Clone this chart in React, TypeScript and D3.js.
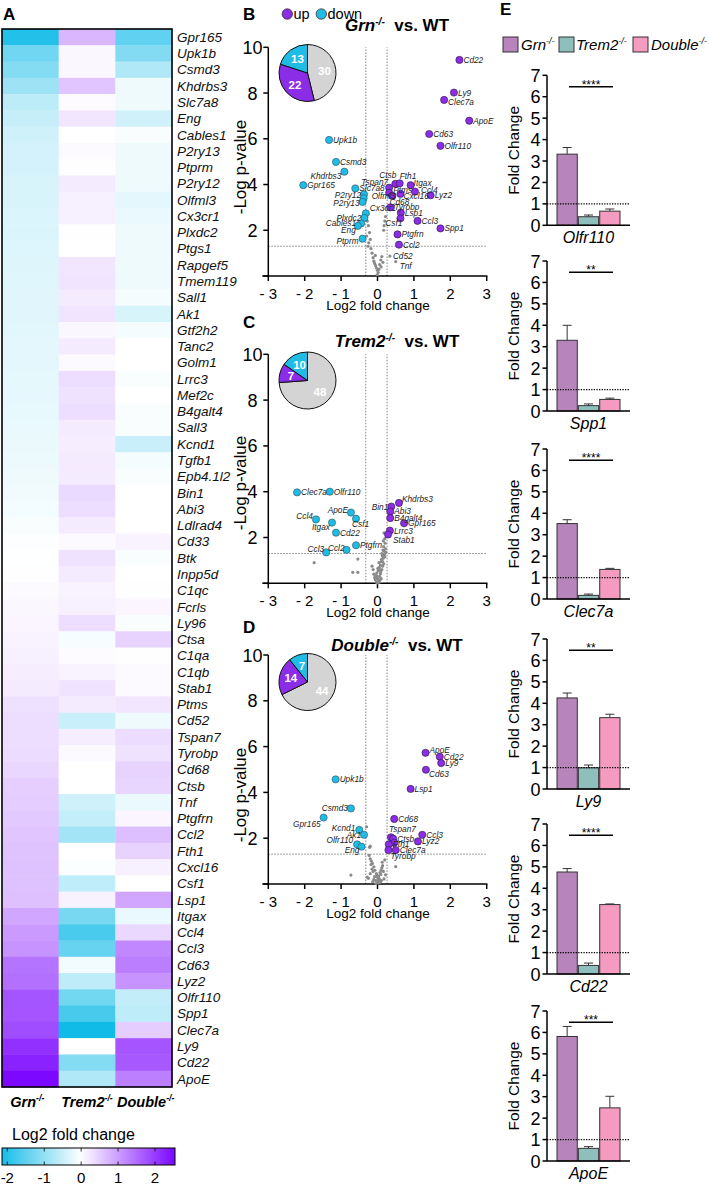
import React from 'react';
import * as d3 from 'd3';

const FONT = '"Liberation Sans", Arial, Helvetica, sans-serif';

// ---------------- Heatmap data ----------------
const GENES = ['Gpr165','Upk1b','Csmd3','Khdrbs3','Slc7a8','Eng','Cables1','P2ry13','Ptprm','P2ry12','Olfml3','Cx3cr1','Plxdc2','Ptgs1','Rapgef5','Tmem119','Sall1','Ak1','Gtf2h2','Tanc2','Golm1','Lrrc3','Mef2c','B4galt4','Sall3','Kcnd1','Tgfb1','Epb4.1l2','Bin1','Abi3','Ldlrad4','Cd33','Btk','Inpp5d','C1qc','Fcrls','Ly96','Ctsa','C1qa','C1qb','Stab1','Ptms','Cd52','Tspan7','Tyrobp','Cd68','Ctsb','Tnf','Ptgfrn','Ccl2','Fth1','Cxcl16','Csf1','Lsp1','Itgax','Ccl4','Ccl3','Cd63','Lyz2','Olfr110','Spp1','Clec7a','Ly9','Cd22','ApoE'];
const HEAT_COLS = ['Grn', 'Trem2', 'Double'];
const GRN_FC = [-2.04,-1.33,-1.14,-0.91,-0.61,-0.54,-0.45,-0.41,-0.41,-0.37,-0.37,-0.33,-0.33,-0.32,-0.31,-0.30,-0.29,-0.28,-0.27,-0.26,-0.25,-0.24,-0.23,-0.21,-0.20,-0.19,-0.17,-0.15,-0.13,-0.11,-0.05,-0.03,-0.01,0.01,0.06,0.08,0.10,0.12,0.15,0.17,0.20,0.32,0.34,0.35,0.36,0.41,0.49,0.50,0.55,0.59,0.61,0.63,0.63,0.64,0.91,1.03,1.10,1.42,1.46,1.73,1.74,1.83,2.10,2.25,2.52];
const TREM2_FC = [0.74,0.08,0.08,0.59,0.04,0.25,0.0,0.06,0.02,0.2,0.15,0.15,0.02,0.0,0.25,0.28,0.2,0.28,0.08,0.2,0.06,0.34,0.3,0.35,0.2,0.18,0.2,0.2,0.38,0.35,0.2,0.06,0.3,0.2,0.12,0.15,0.35,-0.08,0.04,0.12,0.29,0.2,-0.5,0.18,0.05,0.0,0.0,-0.45,-0.55,-0.85,0.0,-0.04,-0.59,0.14,-1.25,-1.69,-1.41,-0.12,-0.6,-1.31,-1.7,-2.21,0.0,-1.14,-0.73];
const DOUBLE_FC = [-1.48,-1.15,-0.73,-0.15,-0.15,-0.44,-0.05,-0.15,-0.15,-0.15,-0.25,-0.2,-0.15,-0.15,-0.15,-0.15,-0.1,-0.37,-0.1,0.0,0.0,-0.05,0.0,-0.05,-0.05,-0.51,-0.1,-0.05,0.0,0.0,0.0,0.12,-0.05,0.0,0.02,0.1,-0.05,0.45,0.02,0.05,0.05,0.25,-0.15,0.36,0.3,0.45,0.42,-0.2,0.1,0.65,0.45,0.15,0.0,0.91,-0.2,0.4,1.22,1.32,1.1,-0.56,-0.6,0.5,1.74,1.7,1.31];
const COLORBAR_TICKS = [-2, -1, 0, 1, 2];

// ---------------- Volcano data: [gene, log2FC, -log p] ----------------
type Pt = [string, number, number];
const GRN_UP: Pt[] = [['Cd22',2.25,9.45],['Ly9',2.10,8.02],['Clec7a',1.83,7.70],['ApoE',2.52,6.79],['Cd63',1.42,6.21],['Olfr110',1.73,5.69],['Ctsb',0.49,4.03],['Fth1',0.61,4.05],['Itgax',0.91,3.97],['Tspan7',0.32,3.86],['Ptms',0.32,3.64],['Ccl4',1.03,3.69],['Cxcl16',0.63,3.59],['Lyz2',1.46,3.53],['Cd68',0.41,3.50],['Tyrobp',0.35,3.00],['Lsp1',0.64,2.77],['Csf1',0.63,2.52],['Ccl3',1.10,2.41],['Spp1',1.73,2.08],['Ptgfrn',0.55,1.82],['Ccl2',0.59,1.37]];
const GRN_DOWN: Pt[] = [['Upk1b',-1.33,5.95],['Csmd3',-1.14,4.99],['Khdrbs3',-0.91,4.56],['Gpr165',-2.04,3.97],['Slc7a8',-0.61,3.83],['P2ry12',-0.37,3.57],['Olfml3',-0.38,3.40],['P2ry13',-0.41,3.24],['Cx3cr1',-0.32,2.74],['Plxdc2',-0.36,2.54],['Cables1',-0.45,2.30],['Eng',-0.54,2.19],['Ptprm',-0.41,1.63]];
const GRN_NS: Pt[] = [['Cd52',0.34,0.87],['Tnf',0.50,0.63],['',-0.28,2.4],['',-0.25,2.2],['',-0.22,1.9],['',-0.2,1.6],['',-0.24,1.45],['',-0.18,1.2],['',-0.15,1.0],['',-0.12,0.8],['',-0.1,0.65],['',-0.08,0.55],['',-0.05,0.45],['',-0.03,0.35],['',0.0,0.25],['',0.02,0.15],['',0.04,0.3],['',0.06,0.5],['',0.09,0.7],['',0.12,0.85],['',0.15,0.6],['',0.18,2.2],['',0.2,2.4],['',0.17,2.0],['',0.22,2.6],['',-0.3,1.75],['',-0.26,1.3],['',-0.01,0.05],['',0.1,0.4],['',-0.06,0.9]];
const GRN_PIE = [30, 22, 13]; // ns, up, down

const TREM2_UP: Pt[] = [['Khdrbs3',0.59,3.51],['Bin1',0.38,3.35],['Abi3',0.35,3.14],['B4galt4',0.35,2.85],['Gpr165',0.73,2.62],['Lrrc3',0.34,2.30],['Stab1',0.29,2.13]];
const TREM2_DOWN: Pt[] = [['Clec7a',-2.21,3.97],['Olfr110',-1.31,4.0],['ApoE',-0.73,3.09],['Ccl4',-1.69,2.79],['Itgax',-1.25,2.65],['Csf1',-0.59,2.82],['Cd22',-1.14,2.21],['Ptgfrn',-0.59,1.66],['Ccl2',-0.85,1.46],['Ccl3',-1.41,1.35]];
const TREM2_NS: Pt[] = [['',-1.74,0.9],['',-0.54,1.06],['',-0.68,0.48],['',-0.54,0.48],['',0.18,2.2],['',0.2,1.95],['',0.17,1.6],['',0.15,1.45],['',0.12,1.3],['',0.16,1.1],['',0.1,0.95],['',0.08,0.8],['',0.05,0.7],['',0.02,0.55],['',-0.02,0.45],['',-0.05,0.35],['',0.0,0.2],['',0.03,0.1],['',-0.03,0.05],['',0.06,0.3],['',0.12,0.6],['',0.14,0.75],['',0.18,1.4],['',0.22,1.5],['',0.19,1.25],['',0.09,0.5],['',-0.08,0.25],['',-0.1,0.4],['',0.01,0.65],['',0.04,0.9],['',0.11,1.05],['',0.13,1.2],['',0.21,1.75],['',0.16,1.85],['',0.07,0.15],['',-0.01,0.3],['',0.08,0.42],['',-0.06,0.15],['',0.14,0.95],['',0.2,1.15],['',0.17,0.85],['',0.06,0.6],['',-0.12,0.6],['',-0.15,0.75],['',0.23,1.35],['',0.1,0.2],['',0.0,0.02],['',0.05,0.05]];
const TREM2_PIE = [48, 7, 10];

const DOUBLE_UP: Pt[] = [['ApoE',1.32,5.73],['Cd22',1.71,5.56],['Ly9',1.75,5.28],['Cd63',1.33,4.99],['Lsp1',0.91,4.15],['Cd68',0.46,2.84],['Tspan7',0.37,2.04],['Ctsb',0.43,1.98],['Ccl3',1.23,2.15],['Lyz2',1.11,1.86],['',0.46,1.80],['Fth1',0.31,1.73],['Clec7a',0.50,1.48],['Tyrobp',0.30,1.48]];
const DOUBLE_DOWN: Pt[] = [['Upk1b',-1.15,4.57],['Csmd3',-0.73,3.3],['Gpr165',-1.48,2.9],['Kcnd1',-0.50,2.36],['Ak1',-0.37,2.15],['Olfr110',-0.56,1.73],['Eng',-0.44,1.63]];
const DOUBLE_NS: Pt[] = [['',-0.73,0.39],['',-0.3,2.5],['',-0.22,1.6],['',-0.2,1.65],['',0.5,0.76],['',-0.2,1.1],['',-0.17,1.0],['',-0.14,0.9],['',-0.1,0.75],['',-0.07,0.6],['',-0.03,0.45],['',0.0,0.3],['',0.03,0.35],['',0.07,0.5],['',0.12,0.7],['',0.14,0.8],['',0.1,0.6],['',0.05,0.2],['',-0.05,0.15],['',-0.1,0.2],['',-0.25,0.25],['',-0.28,0.3],['',0.08,0.1],['',0.02,0.05],['',-0.02,0.4],['',-0.12,0.55],['',-0.18,0.85],['',0.13,0.95],['',0.2,1.05],['',0.22,0.4],['',0.0,0.12],['',0.04,0.25],['',-0.08,0.32],['',0.09,0.42],['',-0.15,0.65],['',0.16,0.55],['',-0.23,1.25],['',0.18,0.22],['',0.11,0.15],['',-0.04,0.02],['',0.06,0.08],['',0.01,0.18],['',-0.13,0.1],['',-0.2,0.45]];
const DOUBLE_PIE = [44, 14, 7];

const VOLCANO_X_TICKS = [-3, -2, -1, 0, 1, 2, 3];
const VOLCANO_Y_TICKS = [2, 4, 6, 8, 10];
const FC_CUTS = [Math.log2(0.8), Math.log2(1.2)];
const P_CUT = -Math.log10(0.05);

// ---------------- Bar chart data ----------------
const BAR_GENES = ['Olfr110', 'Spp1', 'Clec7a', 'Ly9', 'Cd22', 'ApoE'];
const BAR_GROUPS = ['Grn', 'Trem2', 'Double'];
const BAR_GRN = [3.32, 3.30, 3.52, 4.25, 4.76, 5.81];
const BAR_GRN_SEM = [0.31, 0.70, 0.18, 0.23, 0.16, 0.47];
const BAR_TREM2 = [0.40, 0.25, 0.17, 0.99, 0.40, 0.59];
const BAR_TREM2_SEM = [0.08, 0.08, 0.06, 0.13, 0.11, 0.08];
const BAR_DOUBLE = [0.66, 0.54, 1.38, 3.33, 3.24, 2.48];
const BAR_DOUBLE_SEM = [0.10, 0.06, 0.05, 0.16, 0.03, 0.54];
const BAR_SIG = ['****', '**', '****', '**', '****', '***'];
const SIG_LEVEL = 6.47;
const BAR_Y_TICKS = [0, 1, 2, 3, 4, 5, 6, 7];

// ---------------- Styles / layout ----------------
const UP_COLOR = '#8b2de6';
const DOWN_COLOR = '#1fbde6';
const NS_COLOR = '#d4d4d4';
const BAR_COLORS = ['#b784bb', '#8fbfbd', '#f59bc0'];

type Lab = [number, number, string];
const LAB_B: Record<string, Lab> = {
  Clec7a: [4, 5, 'start'], Khdrbs3: [-3, 7, 'end'], Tspan7: [-1, -3, 'end'], Ctsb: [1, -6, 'end'],
  Fth1: [0, -4, 'start'], Itgax: [3, 1, 'start'], Ptms: [4, 0, 'start'], Ccl4: [6, 1, 'start'],
  Cxcl16: [3, 5, 'start'], Olfml3: [8, 1, 'start'], Cd68: [-3, 9, 'start'], P2ry12: [-3, 4, 'end'],
  P2ry13: [-3, 4, 'end'], Cx3cr1: [4, -2, 'start'], Plxdc2: [-3, 3, 'end'], Cables1: [-5, 3, 'end'],
  Eng: [-2, 7, 'end'], Csf1: [2, 8, 'end'], Ptprm: [-4, 5, 'end'], Cd52: [3, 3, 'start'], Tnf: [4, 7, 'start'],
};
const LAB_C: Record<string, Lab> = {
  ApoE: [-3, 0, 'end'], Ccl4: [-3, 0, 'end'], Itgax: [-2, 7, 'end'], Csf1: [-4, 8, 'start'],
  Ccl2: [-2, 1, 'end'], Ccl3: [-2, 0, 'end'], Khdrbs3: [3, -1, 'start'], Bin1: [-3, 3, 'end'], Stab1: [5, 8, 'start'],
};
const LAB_D: Record<string, Lab> = {
  ApoE: [4, 0, 'start'], Cd63: [3, 7, 'start'], Tspan7: [-2, -5, 'start'], Tyrobp: [2, 9, 'start'],
  Csmd3: [-3, 3, 'end'], Gpr165: [-3, 9, 'end'], Kcnd1: [-4, 1, 'end'], Ak1: [-3, 3, 'end'],
  Olfr110: [-4, -1, 'end'], Eng: [-2, 6, 'end'],
};

function Mut({ name, size, after }: { name: string; size: number; after?: string }) {
  const up = size * 0.38;
  return (
    <>
      <tspan fontStyle="italic">{name}</tspan>
      <tspan fontSize={size * 0.6} dy={-up} fontStyle="italic">-/-</tspan>
      {after ? <tspan dy={up} fontSize={size}>{after}</tspan> : null}
    </>
  );
}

function Heatmap() {
  const rows = d3.scaleBand<string>().domain(GENES).range([29, 1087]);
  const cols = d3.scaleBand<string>().domain(HEAT_COLS).range([2, 172]);
  const color = d3.scaleLinear<string>().domain([-2.2, 0, 2.6]).range(['#12bbe8', '#ffffff', '#7800ff']);
  const vals = [GRN_FC, TREM2_FC, DOUBLE_FC];
  const cb = d3.scaleLinear().domain([-2, 2]).range([7.3, 155]);
  const cbMin = cb.invert(2), cbMax = cb.invert(175);
  const stops = d3.range(0, 1.0001, 0.05).map((t) => ({ t, c: color(cbMin + t * (cbMax - cbMin)) }));
  return (
    <g>
      <defs>
        <linearGradient id="cbgrad" x1="0" x2="1" y1="0" y2="0">
          {stops.map((s, i) => <stop key={i} offset={s.t} stopColor={s.c} />)}
        </linearGradient>
      </defs>
      <text x={3} y={20} fontSize={17} fontWeight="bold">A</text>
      {HEAT_COLS.map((c, ci) => GENES.map((g, gi) => (
        <rect key={c + g} x={cols(c)!} y={rows(g)!} width={cols.bandwidth() + 0.4} height={rows.bandwidth() + 0.4} fill={color(vals[ci][gi])} />
      )))}
      <rect x={2} y={29} width={170} height={1058} fill="none" stroke="#000" strokeWidth={1.6} />
      {GENES.map((g) => (
        <text key={g} x={177} y={rows(g)! + rows.bandwidth() / 2 + 4.7} fontSize={13.5} fontStyle="italic" fill="#111">{g}</text>
      ))}
      {HEAT_COLS.map((c) => (
        <text key={c} x={cols(c)! + cols.bandwidth() / 2 + (c === 'Grn' ? -3 : c === 'Double' ? 2 : 0)} y={1107} fontSize={14.5} fontWeight="bold" textAnchor="middle">
          <Mut name={c} size={14.5} />
        </text>
      ))}
      <text x={12} y={1140} fontSize={16}>Log2 fold change</text>
      <rect x={2} y={1148} width={173} height={17} fill="url(#cbgrad)" stroke="#000" strokeWidth={1} />
      {COLORBAR_TICKS.map((t) => (
        <g key={t}>
          <line x1={cb(t)} x2={cb(t)} y1={1148} y2={1151.5} stroke="#000" strokeWidth={0.8} />
          <line x1={cb(t)} x2={cb(t)} y1={1161.5} y2={1165} stroke="#000" strokeWidth={0.8} />
          <text x={cb(t)} y={1183} fontSize={15} textAnchor="middle">{t}</text>
        </g>
      ))}
    </g>
  );
}

type VCfg = { letter: string; letterY: number; titleY: number; y10: number; y0: number; ylabCY: number; pieCY: number; mutant: string };

function Volcano({ cfg, up, down, ns, pie, labels, legend }: { cfg: VCfg; up: Pt[]; down: Pt[]; ns: Pt[]; pie: number[]; labels: Record<string, Lab>; legend?: boolean }) {
  const x = d3.scaleLinear().domain([-3, 3]).range([268.3, 486.7]);
  const y = d3.scaleLinear().domain([0, 10]).range([cfg.y0, cfg.y10]);
  const pieGen = d3.pie<number>().sort(null).value((d) => d);
  const arcs = pieGen(pie);
  const R = 28.5;
  const arc = d3.arc<d3.PieArcDatum<number>>().innerRadius(0).outerRadius(R);
  const labArc = d3.arc<d3.PieArcDatum<number>>().innerRadius(R * 0.6).outerRadius(R * 0.6);
  const pieColors = [NS_COLOR, UP_COLOR, DOWN_COLOR];
  const pcx = 307.5;
  const lab = (p: Pt, key: string) => {
    if (!p[0]) return null;
    const [dx, dy, anchor] = labels[p[0]] || [4, 3, 'start'];
    return (
      <text key={key} x={x(p[1]) + dx} y={y(p[2]) + dy} fontSize={8.3} fontStyle="italic" fill="#222" textAnchor={anchor as any}>{p[0]}</text>
    );
  };
  return (
    <g>
      <text x={243} y={cfg.letterY} fontSize={17} fontWeight="bold">{cfg.letter}</text>
      {legend && (
        <g>
          <circle cx={287.3} cy={14} r={5.2} fill={UP_COLOR} stroke="#333" strokeWidth={0.8} />
          <text x={293.5} y={19} fontSize={14.5}>up</text>
          <circle cx={321.3} cy={14} r={5.2} fill={DOWN_COLOR} stroke="#333" strokeWidth={0.8} />
          <text x={327.5} y={19} fontSize={14.5}>down</text>
        </g>
      )}
      <text x={397} y={cfg.titleY} fontSize={17} fontWeight="bold" textAnchor="middle">
        <Mut name={cfg.mutant} size={17} after={'\u00a0 vs. WT'} />
      </text>
      {/* threshold lines */}
      {FC_CUTS.map((c) => (
        <line key={c} x1={x(c)} x2={x(c)} y1={y(0)} y2={y(10)} stroke="#777" strokeWidth={0.9} strokeDasharray="1.5,1.5" />
      ))}
      <line x1={x(-3)} x2={x(3)} y1={y(P_CUT)} y2={y(P_CUT)} stroke="#777" strokeWidth={0.9} strokeDasharray="1.5,1.5" />
      {/* axes */}
      <line x1={x(-3)} x2={x(-3)} y1={y(0)} y2={y(10)} stroke="#000" strokeWidth={1.5} />
      <line x1={x(-3) - 6} x2={x(3) + 0.7} y1={y(0)} y2={y(0)} stroke="#000" strokeWidth={1.5} />
      {[0, ...VOLCANO_Y_TICKS].map((t) => (
        <line key={'yt' + t} x1={x(-3) - 5} x2={x(-3)} y1={y(t)} y2={y(t)} stroke="#000" strokeWidth={1.5} />
      ))}
      {VOLCANO_Y_TICKS.map((t) => (
        <text key={'yl' + t} x={252.4} y={y(t) + 6.5} fontSize={18} textAnchor="middle">{t}</text>
      ))}
      {VOLCANO_X_TICKS.map((t) => (
        <g key={'xt' + t}>
          <line x1={x(t)} x2={x(t)} y1={y(0)} y2={y(0) + 5} stroke="#000" strokeWidth={1.5} />
          <text x={x(t)} y={y(0) + 23} fontSize={15} textAnchor="middle">{t < 0 ? `- ${-t}` : `${t}`}</text>
        </g>
      ))}
      <text x={378} y={y(0) + 34} fontSize={13.5} textAnchor="middle">Log2 fold change</text>
      <text transform={`translate(246,${cfg.ylabCY}) rotate(-90)`} fontSize={17} textAnchor="middle">-Log p-value</text>
      {/* points */}
      {ns.map((p, i) => <circle key={'n' + i} cx={x(p[1])} cy={y(p[2])} r={1.6} fill="#8a8a8a" />)}
      {ns.map((p, i) => lab(p, 'nl' + i))}
      {down.map((p, i) => <circle key={'d' + i} cx={x(p[1])} cy={y(p[2])} r={3.6} fill={DOWN_COLOR} stroke="#2f4f5f" strokeWidth={0.6} />)}
      {up.map((p, i) => <circle key={'u' + i} cx={x(p[1])} cy={y(p[2])} r={3.6} fill={UP_COLOR} stroke="#2a1a40" strokeWidth={0.6} />)}
      {down.map((p, i) => lab(p, 'dl' + i))}
      {up.map((p, i) => lab(p, 'ul' + i))}
      {/* pie */}
      <g transform={`translate(${pcx},${cfg.pieCY})`}>
        {arcs.map((a, i) => <path key={i} d={arc(a)!} fill={pieColors[i]} stroke="#111" strokeWidth={1} />)}
        {arcs.map((a, i) => {
          const [cx, cy] = labArc.centroid(a);
          return <text key={'pl' + i} x={cx} y={cy + 4} fontSize={11.5} fontWeight="bold" fill="#fff" textAnchor="middle">{a.data}</text>;
        })}
      </g>
    </g>
  );
}

const BAR_Y0 = [225.3, 411, 599, 789, 974, 1161];

function BarChart({ gi }: { gi: number }) {
  const y0 = BAR_Y0[gi];
  const y = d3.scaleLinear().domain([0, 7]).range([y0, y0 - 150]);
  const xb = d3.scaleBand<string>().domain(BAR_GROUPS).range([557, 620]).paddingInner(0.05);
  const means = [BAR_GRN[gi], BAR_TREM2[gi], BAR_DOUBLE[gi]];
  const sems = [BAR_GRN_SEM[gi], BAR_TREM2_SEM[gi], BAR_DOUBLE_SEM[gi]];
  const axX = 547;
  return (
    <g>
      {BAR_GROUPS.map((g, i) => {
        const bx = xb(g)!;
        const w = xb.bandwidth();
        const cx = bx + w / 2;
        return (
          <g key={g}>
            <line x1={cx} x2={cx} y1={y(means[i])} y2={y(means[i] + sems[i])} stroke="#333" strokeWidth={1} />
            <line x1={cx - 4.5} x2={cx + 4.5} y1={y(means[i] + sems[i])} y2={y(means[i] + sems[i])} stroke="#333" strokeWidth={1} />
            <rect x={bx} y={y(means[i])} width={w} height={y(0) - y(means[i])} fill={BAR_COLORS[i]} stroke="#333" strokeWidth={1} />
          </g>
        );
      })}
      <line x1={axX} x2={630} y1={y(1)} y2={y(1)} stroke="#000" strokeWidth={1.2} strokeDasharray="1.3,1.3" />
      <line x1={axX} x2={axX} y1={y(0)} y2={y(7)} stroke="#000" strokeWidth={1.5} />
      <line x1={axX} x2={630} y1={y(0)} y2={y(0)} stroke="#000" strokeWidth={1.5} />
      {BAR_Y_TICKS.map((t) => (
        <g key={t}>
          <line x1={axX - 4.5} x2={axX} y1={y(t)} y2={y(t)} stroke="#000" strokeWidth={1.5} />
          <text x={535.5} y={y(t) + 6.5} fontSize={18} textAnchor="middle">{t}</text>
        </g>
      ))}
      <line x1={569} x2={613} y1={y(SIG_LEVEL)} y2={y(SIG_LEVEL)} stroke="#000" strokeWidth={1.5} />
      <text x={591} y={y(SIG_LEVEL) + 2} fontSize={12} textAnchor="middle">{BAR_SIG[gi]}</text>
      <text transform={`translate(519,${y(3.5)}) rotate(-90)`} fontSize={15.5} textAnchor="middle">Fold Change</text>
      <text x={588.5} y={y0 + 18} fontSize={16} fontStyle="italic" textAnchor="middle">{BAR_GENES[gi]}</text>
    </g>
  );
}

function BarPanel() {
  const legX = [503, 559, 633];
  const legT = [521, 576, 651];
  return (
    <g>
      <text x={500} y={15} fontSize={17} fontWeight="bold">E</text>
      {BAR_GROUPS.map((g, i) => (
        <g key={g}>
          <rect x={legX[i]} y={37} width={15} height={15} fill={BAR_COLORS[i]} stroke="#333" strokeWidth={1} />
          <text x={legT[i]} y={49.5} fontSize={15}><Mut name={g} size={15} /></text>
        </g>
      ))}
      {BAR_GENES.map((_, gi) => <BarChart key={gi} gi={gi} />)}
    </g>
  );
}

export default function App() {
  const cfgB: VCfg = { letter: 'B', letterY: 20, titleY: 31, y10: 47.3, y0: 276, ylabCY: 167, pieCY: 73, mutant: 'Grn' };
  const cfgC: VCfg = { letter: 'C', letterY: 328, titleY: 347, y10: 354.3, y0: 583.3, ylabCY: 483, pieCY: 380.5, mutant: 'Trem2' };
  const cfgD: VCfg = { letter: 'D', letterY: 633, titleY: 651, y10: 655, y0: 884, ylabCY: 795, pieCY: 682, mutant: 'Double' };
  return (
    <svg width={709} height={1186} viewBox="0 0 709 1186" style={{ position: 'absolute', left: 0, top: 0, background: '#fff' }} fontFamily={FONT}>
      <rect x={0} y={0} width={709} height={1186} fill="#fff" />
      <Heatmap />
      <Volcano cfg={cfgB} up={GRN_UP} down={GRN_DOWN} ns={GRN_NS} pie={GRN_PIE} labels={LAB_B} legend />
      <Volcano cfg={cfgC} up={TREM2_UP} down={TREM2_DOWN} ns={TREM2_NS} pie={TREM2_PIE} labels={LAB_C} />
      <Volcano cfg={cfgD} up={DOUBLE_UP} down={DOUBLE_DOWN} ns={DOUBLE_NS} pie={DOUBLE_PIE} labels={LAB_D} />
      <BarPanel />
    </svg>
  );
}
